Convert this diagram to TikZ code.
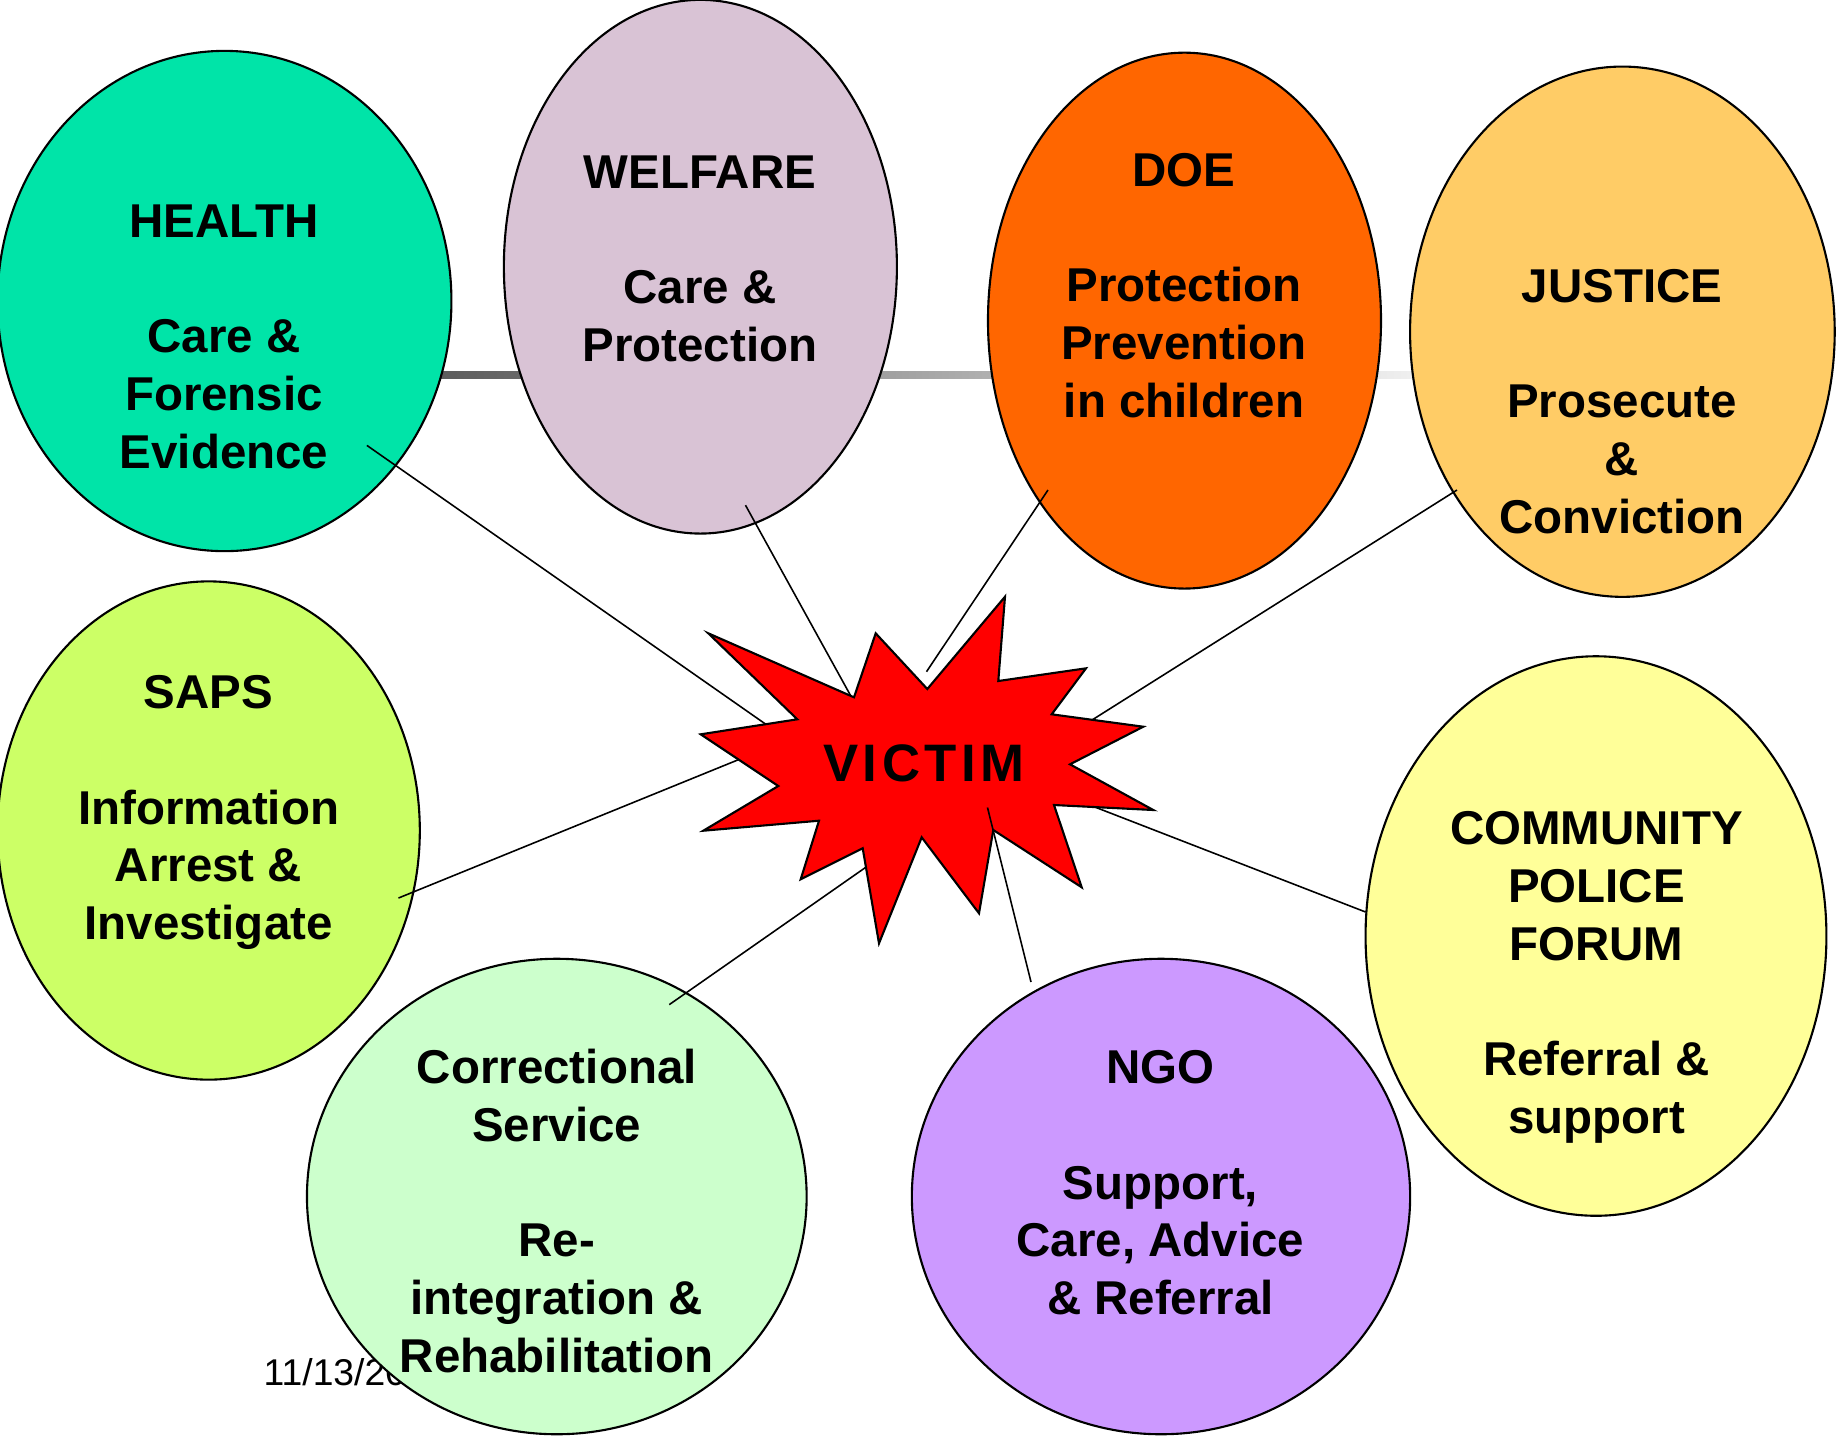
\documentclass[tikz,border=0pt]{standalone}
\usepackage{fontspec}
\setmainfont{Liberation Sans}
\usetikzlibrary{shapes.geometric}
\definecolor{cHealth}{HTML}{00E4A8}
\definecolor{cWelfare}{HTML}{D9C3D5}
\definecolor{cDoe}{HTML}{FF6600}
\definecolor{cJustice}{HTML}{FFCC66}
\definecolor{cSaps}{HTML}{CCFF66}
\definecolor{cCommunity}{HTML}{FFFF99}
\definecolor{cCorrect}{HTML}{CCFFCC}
\definecolor{cNgo}{HTML}{CC99FF}
\definecolor{barDark}{HTML}{5A5A5A}
\definecolor{barLight}{HTML}{F2F2F2}
\begin{document}
\begin{tikzpicture}[x=0.01cm,y=-0.01cm,
  bubble/.style={ellipse, draw=black, line width=0.6pt, inner sep=0pt},
  lbl/.style={font=\bfseries\fontsize{13.5}{16.4}\selectfont, align=center, anchor=base, inner sep=0pt},
  link/.style={draw=black, line width=0.45pt}]
\useasboundingbox (0,0) rectangle (1838,1435);

% gradient bar behind the top bubbles
\shade[left color=barDark, right color=barLight] (420,371) rectangle (1430,378);

% date (partly hidden)
\node[font=\fontsize{10.6}{12}\selectfont, anchor=base west, inner sep=0pt] (date) at (263,1385) {11/13/2008};

% bubbles
\node[bubble, fill=cHealth, minimum width=4.536cm, minimum height=5.00cm] (health) at (224.5,301) {};
\node[bubble, fill=cWelfare, minimum width=3.928cm, minimum height=5.334cm] (welfare) at (700.4,266.7) {};
\node[bubble, fill=cDoe, minimum width=3.928cm, minimum height=5.356cm] (doe) at (1184.5,320.6) {};
\node[bubble, fill=cJustice, minimum width=4.244cm, minimum height=5.30cm] (justice) at (1622.4,331.7) {};
\node[bubble, fill=cSaps, minimum width=4.22cm, minimum height=4.98cm] (saps) at (208.7,830.5) {};
\node[bubble, fill=cCommunity, minimum width=4.606cm, minimum height=5.592cm] (community) at (1596,936) {};
\node[bubble, fill=cCorrect, minimum width=4.994cm, minimum height=4.752cm] (correctional) at (556.8,1196.5) {};
\node[bubble, fill=cNgo, minimum width=4.98cm, minimum height=4.752cm] (ngo) at (1161,1196.5) {};

% labels (anchored at the baseline of the last line)
\node[lbl] (thealth) at (224,468.1) {HEALTH\\[16.4pt]Care \&\\Forensic\\Evidence};
\node[lbl] (twelfare) at (700,361.4) {WELFARE\\[16.4pt]Care \&\\Protection};
\node[lbl] (tdoe) at (1184,417.1) {DOE\\[16.4pt]Protection\\Prevention\\in children};
\node[lbl] (tjustice) at (1622,533.1) {JUSTICE\\[16.4pt]Prosecute\\\&\\Conviction};
\node[lbl] (tsaps) at (208.6,939.6) {SAPS\\[16.4pt]Information\\Arrest \&\\Investigate};
\node[lbl] (tcommunity) at (1596.5,1133.2) {COMMUNITY\\POLICE\\FORUM\\[16.4pt]Referral \&\\support};
\node[lbl] (tcorrect) at (556.8,1372.2) {Correctional\\Service\\[16.4pt]Re-\\integration \&\\Rehabilitation};
\node[lbl] (tngo) at (1160.5,1314.6) {NGO\\[16.4pt]Support,\\Care, Advice\\\& Referral};

% connector end points
\coordinate (hA) at (366.9,445.4);   \coordinate (hB) at (776.6,731.8);
\coordinate (wA) at (745.5,505.2);   \coordinate (wB) at (855.8,705);
\coordinate (dA) at (1048,490);      \coordinate (dB) at (926.5,671.7);
\coordinate (jA) at (1457,490);      \coordinate (jB) at (1079.8,727.7);
\coordinate (sA) at (398.5,898);     \coordinate (sB) at (752.4,754);
\coordinate (cA) at (669.3,1004.6);  \coordinate (cB) at (876.2,860);
\coordinate (mA) at (1365.6,912);    \coordinate (mB) at (1085.5,803.4);
\coordinate (nA) at (1031,982);      \coordinate (nB) at (987.5,807.5);

\draw[link] (hA) -- (hB);
\draw[link] (wA) -- (wB);
\draw[link] (dA) -- (dB);
\draw[link] (jA) -- (jB);
\draw[link] (sA) -- (sB);
\draw[link] (cA) -- (cB);
\draw[link] (mA) -- (mB);

% star burst
\filldraw[fill=red, draw=black, line width=0.6pt, line join=miter]
 (708.3,633.3) -- (854,697.3) -- (875.7,633.3) -- (927.3,689) -- (1005,596.7)
 -- (998.3,681) -- (1086,668.3) -- (1051.7,714.3) -- (1143.3,726.7) -- (1070,764.3)
 -- (1153.3,810) -- (1054,805) -- (1081.7,887.3) -- (993.3,830) -- (979,913.3)
 -- (921.7,837.3) -- (879,943.3) -- (862.7,848.3) -- (800.7,879.3) -- (819,820.7)
 -- (703.3,830.7) -- (778.3,786) -- (700.7,734.3) -- (797.3,719.3) -- cycle;

\node[font=\bfseries\fontsize{15}{18}\selectfont, anchor=base, inner sep=0pt] (victim) at (924,781.7)
 {V\kern1.3pt I\kern1.3pt C\kern1.3pt T\kern1.3pt I\kern1.3pt M};

\draw[link] (nB) -- (nA);
\end{tikzpicture}
\end{document}
